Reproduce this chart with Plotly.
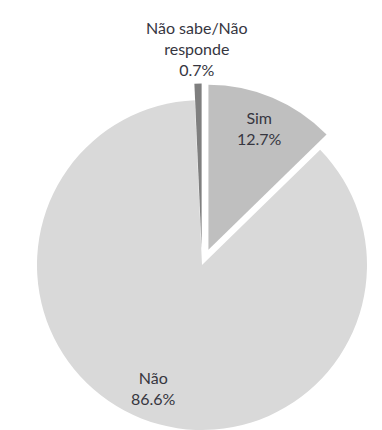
import math
import plotly.graph_objects as go

# ---- data ----
labels = ["Sim", "Não", "Não sabe/Não responde"]
values = [12.7, 86.6, 0.7]
label_text = ["Sim", "Não", "Não sabe/Não<br>responde"]
colors = ["#bfbfbf", "#d9d9d9", "#7f7f7f"]
pulled = [True, False, True]
label_radius = [0.8, 0.8, 1.215]   # label distance from slice centre, as fraction of radius

# ---- layout constants ----
W, H = 382, 430
CX, CY, R = 202, 265, 165
PULL = 0.1
FONT = dict(family="Lato, 'Open Sans', sans-serif", size=16, color="#36363f")


def clamp(v):
    return min(1.0, max(0.0, round(v, 6)))


fig = go.Figure()
total = sum(values)
start = 0.0
annotations = []
for i, v in enumerate(values):
    mid = (start + v / 2) / total * 2 * math.pi
    start += v
    d = PULL * R if pulled[i] else 0.0
    cx = CX + d * math.sin(mid)
    cy = CY - d * math.cos(mid)
    fig.add_trace(go.Pie(
        labels=labels,
        values=values,
        sort=False,
        direction="clockwise",
        rotation=0,
        marker=dict(colors=[colors[j] if j == i else "rgba(0,0,0,0)" for j in range(len(values))],
                    line=dict(width=0)),
        textinfo="none",
        domain=dict(x=[clamp((cx - R) / W), clamp((cx + R) / W)],
                    y=[clamp(1 - (cy + R) / H), clamp(1 - (cy - R) / H)]),
        showlegend=False,
        hoverinfo="label+percent",
    ))
    lx = cx + label_radius[i] * R * math.sin(mid)
    ly = cy - label_radius[i] * R * math.cos(mid)
    annotations.append(dict(
        x=lx / W, y=1 - ly / H, xref="paper", yref="paper",
        xanchor="center", yanchor="middle", showarrow=False,
        text=f"{label_text[i]}<br>{v / total:.1%}",
        font=FONT, align="center",
    ))

fig.update_layout(
    width=W,
    height=H,
    margin=dict(l=0, r=0, t=0, b=0),
    paper_bgcolor="white",
    plot_bgcolor="white",
    showlegend=False,
    annotations=annotations,
)

fig.write_html("out.html", config={"displayModeBar": False},
               post_script="document.body.style.margin='0';")
